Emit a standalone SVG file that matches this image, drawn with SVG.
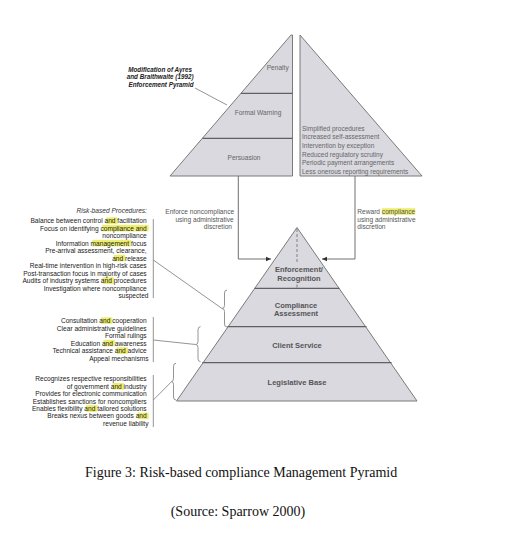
<svg xmlns="http://www.w3.org/2000/svg" width="514" height="535" viewBox="0 0 514 535">
<style>
.pyr{fill:#d9d9df;stroke:#7a7a7a;stroke-width:1}
.div{stroke:#606060;stroke-width:1.2;fill:none}
.lbl{font-family:"Liberation Sans",Arial,sans-serif;font-size:6.6px;fill:#666}
.blbl{font-family:"Liberation Sans",Arial,sans-serif;font-size:7.5px;font-weight:bold;fill:#555;text-anchor:middle}
.tx{font-family:"Liberation Sans",Arial,sans-serif;font-size:6.6px;fill:#222}
.txr{text-anchor:end}
.gr{fill:#555}
.hl{fill:#eeee70}
.ln{stroke:#888;stroke-width:0.9;fill:none}
.con{stroke:#707070;stroke-width:1;fill:none}
.cap{font-family:"Liberation Serif","Times New Roman",serif;font-size:14px;fill:#111}
</style>
<defs>
<marker id="ah" markerWidth="6" markerHeight="6" refX="5" refY="3" orient="auto" markerUnits="userSpaceOnUse">
<path d="M0,0.8 L5,3 L0,5.2 Z" fill="#333"/>
</marker>
</defs>
<rect width="514" height="535" fill="#fff"/>

<g id="enforcement-pyramid">
<path class="pyr" d="M291,35 L292.5,35 L292.5,176 L170,176 Z"/>
<line class="div" x1="241" y1="93.3" x2="292.5" y2="93.3"/>
<line class="div" x1="202.5" y1="138.3" x2="292.5" y2="138.3"/>
<text class="lbl" x="277.7" y="70.3" text-anchor="middle">Penalty</text>
<text class="lbl" x="258" y="115" text-anchor="middle">Formal Warning</text>
<text class="lbl" x="244" y="160" text-anchor="middle">Persuasion</text>
</g>

<g id="label-modification">
<text style="font-family:'Liberation Sans',Arial,sans-serif;font-size:6.3px;font-style:italic;font-weight:bold;fill:#222" text-anchor="middle">
<tspan x="161" y="71.5">Modification of Ayres</tspan>
<tspan x="161" y="79">and Braithwaite (1992)</tspan>
<tspan x="161" y="86.8">Enforcement Pyramid</tspan>
</text>
<line class="ln" x1="195" y1="88" x2="227" y2="105"/>
</g>

<g id="reward-triangle">
<path class="pyr" d="M300,35 L422,176 L300,176 Z"/>
<text class="lbl" style="font-size:6.5px">
<tspan x="302" y="130.5">Simplified procedures</tspan>
<tspan x="302" y="139.2">Increased self-assessment</tspan>
<tspan x="302" y="147.9">Intervention by exception</tspan>
<tspan x="302" y="156.6">Reduced regulatory scrutiny</tspan>
<tspan x="302" y="165.3">Periodic payment arrangements</tspan>
<tspan x="302" y="174">Less onerous reporting requirements</tspan>
</text>
</g>

<g id="connectors">
<path class="con" d="M238.3,176 V259 H271" marker-end="url(#ah)"/>
<path class="con" d="M355,176 V259 H322" marker-end="url(#ah)"/>
<line class="ln" x1="153.3" y1="260" x2="222" y2="308.5"/>
<line class="ln" x1="153.3" y1="340" x2="195.7" y2="344.5"/>
<line class="ln" x1="153.3" y1="400" x2="171.7" y2="381.5"/>
<path class="ln" d="M227,290 Q224.5,290 224.5,293 L224.5,305.5 Q224.5,308.5 222,308.5 Q224.5,308.5 224.5,311.5 L224.5,324 Q224.5,327 227,327"/>
<path class="ln" d="M200.5,326.7 Q198,326.7 198,329.7 L198,341.5 Q198,344.5 195.7,344.5 Q198,344.5 198,347.5 L198,358.7 Q198,361.7 200.5,361.7"/>
<path class="ln" d="M176,363.3 Q173.5,363.3 173.5,366.3 L173.5,378.5 Q173.5,381.5 171.5,381.5 Q173.5,381.5 173.5,384.5 L173.5,397 Q173.5,400 176,400"/>
<line class="ln" x1="153.3" y1="219" x2="153.3" y2="298"/>
<line class="ln" x1="153.3" y1="317" x2="153.3" y2="362"/>
<line class="ln" x1="153.3" y1="375" x2="153.3" y2="427"/>
</g>

<g id="enforce-label">
<text class="tx gr txr">
<tspan x="236" y="214">Enforce noncompliance</tspan>
<tspan x="235.5" y="221.6">using administrative</tspan>
<tspan x="232" y="229.4">discretion</tspan>
</text>
</g>

<g id="reward-label">
<rect class="hl" x="381.9" y="208.2" width="33.4" height="6.6"/>
<text class="tx gr">
<tspan x="357.3" y="214">Reward compliance</tspan>
<tspan x="357.3" y="221.6">using administrative</tspan>
<tspan x="357.3" y="229.3">discretion</tspan>
</text>
</g>

<g id="compliance-pyramid">
<path class="pyr" d="M297,227.5 L417,401 L176.5,401 Z"/>
<line class="div" x1="254.6" y1="288.3" x2="339.4" y2="288.3"/>
<line class="div" x1="227.5" y1="326.7" x2="366.5" y2="326.7"/>
<line class="div" x1="202.4" y1="362.7" x2="391.6" y2="362.7"/>
<line x1="297" y1="229" x2="297" y2="263" stroke="#777" stroke-width="0.9" stroke-dasharray="3,2"/>
<line x1="297" y1="284.5" x2="297" y2="287.5" stroke="#777" stroke-width="0.9"/>
<text class="blbl"><tspan x="299" y="272">Enforcement/</tspan><tspan x="299" y="281.4">Recognition</tspan></text>
<text class="blbl"><tspan x="296" y="307.6">Compliance</tspan><tspan x="296" y="316.3">Assessment</tspan></text>
<text class="blbl" x="297" y="348.3">Client Service</text>
<text class="blbl" x="297" y="385">Legislative Base</text>
</g>

<g id="risk-procedures">
<rect class="hl" x="106.1" y="217.3" width="11.4" height="6.6"/>
<rect class="hl" x="102.2" y="224.8" width="46.4" height="6.6"/>
<rect class="hl" x="92.3" y="239.8" width="38.7" height="6.6"/>
<rect class="hl" x="113.9" y="254.8" width="11.3" height="6.6"/>
<rect class="hl" x="102.6" y="277.3" width="11.3" height="6.6"/>
<text class="tx txr">
<tspan x="148.8" y="213" style="font-style:italic;fill:#333">Risk-based Procedures:</tspan>
<tspan x="148.5" y="223">Balance between control and facilitation</tspan>
<tspan x="148.5" y="230.5">Focus on identifying compliance and</tspan>
<tspan x="148.5" y="238">noncompliance</tspan>
<tspan x="148.5" y="245.5">Information management focus</tspan>
<tspan x="148.5" y="253">Pre-arrival assessment, clearance,</tspan>
<tspan x="148.5" y="260.5">and release</tspan>
<tspan x="148.5" y="268">Real-time intervention in high-risk cases</tspan>
<tspan x="148.5" y="275.5">Post-transaction focus in majority of cases</tspan>
<tspan x="148.5" y="283">Audits of industry systems and procedures</tspan>
<tspan x="148.5" y="290.5">Investigation where noncompliance</tspan>
<tspan x="148.5" y="298">suspected</tspan>
</text>
</g>

<g id="assessment-notes">
<rect class="hl" x="101.1" y="317.3" width="11.3" height="6.6"/>
<rect class="hl" x="103.6" y="339.8" width="11.3" height="6.6"/>
<rect class="hl" x="116.5" y="347.3" width="11.3" height="6.6"/>
<text class="tx txr">
<tspan x="148.5" y="323">Consultation and cooperation</tspan>
<tspan x="148.5" y="330.5">Clear administrative guidelines</tspan>
<tspan x="148.5" y="338">Formal rulings</tspan>
<tspan x="148.5" y="345.5">Education and awareness</tspan>
<tspan x="148.5" y="353">Technical assistance and advice</tspan>
<tspan x="148.5" y="360.5">Appeal mechanisms</tspan>
</text>
</g>

<g id="legislative-notes">
<rect class="hl" x="112.5" y="383" width="11.3" height="6.6"/>
<rect class="hl" x="86" y="405.2" width="11.3" height="6.6"/>
<rect class="hl" x="137.4" y="412.6" width="11.3" height="6.6"/>
<text class="tx txr">
<tspan x="148.5" y="381.3">Recognizes respective responsibilities</tspan>
<tspan x="148.5" y="388.7">of government and industry</tspan>
<tspan x="148.5" y="396.1">Provides for electronic communication</tspan>
<tspan x="148.5" y="403.5">Establishes sanctions for noncompliers</tspan>
<tspan x="148.5" y="410.9">Enables flexibility and tailored solutions</tspan>
<tspan x="148.5" y="418.3">Breaks nexus between goods and</tspan>
<tspan x="148.5" y="425.7">revenue liability</tspan>
</text>
</g>

<g id="caption">
<text class="cap" x="85" y="477">Figure 3: Risk-based compliance Management Pyramid</text>
<text class="cap" x="170.7" y="516">(Source: Sparrow 2000)</text>
</g>
</svg>
